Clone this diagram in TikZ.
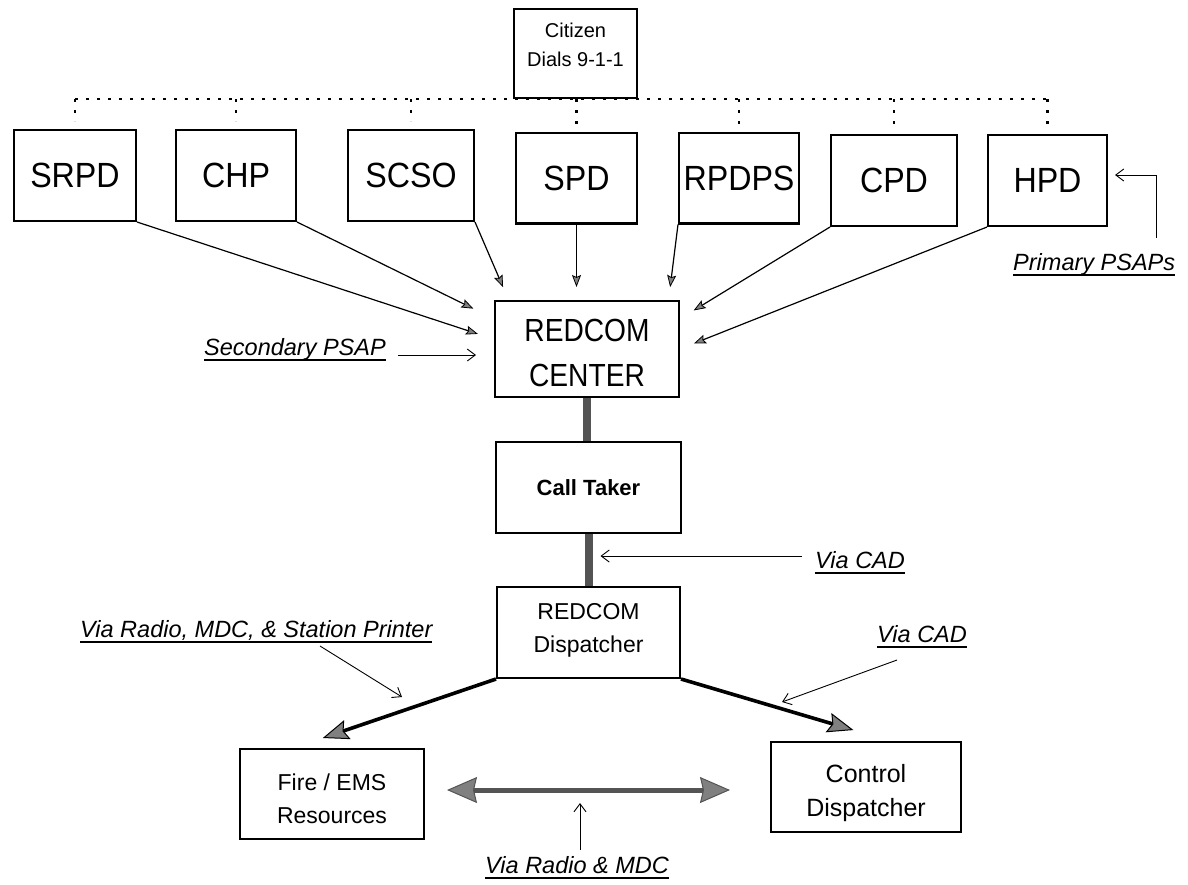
\documentclass[tikz,border=0pt]{standalone}
\usepackage{fontspec}
\setmainfont{Liberation Sans}
\newfontfamily\condsans[FakeStretch=0.92]{Liberation Sans}
\newfontfamily\condsansr[FakeStretch=0.88]{Liberation Sans}
\usetikzlibrary{arrows.meta,calc}
\definecolor{headgray}{gray}{0.5}
\definecolor{bargray}{gray}{0.33}
\newcommand\myuline[1]{\setbox0\hbox{#1}\rlap{\rule[-5.5pt]{\wd0}{1.2pt}}\box0}
\newcommand\boxlines[3]{\raisebox{#1}[\height][\depth]{\begin{tabular}{@{}c@{}}#2\\#3\end{tabular}}}
\begin{document}
\begin{tikzpicture}[x=1pt,y=-1pt,
  box/.style={draw, line width=2.4pt, inner sep=0pt},
  agency/.style={box, minimum height=90.6pt, font=\condsans\fontsize{35}{40}\selectfont},
  lbl/.style={inner sep=0pt, font=\itshape\fontsize{23.5}{28}\selectfont, anchor=base west},
  feed/.style={line width=1.2pt, -{Stealth[length=12pt,width=9pt,inset=2pt,fill=headgray,line width=0.8pt]}},
  note/.style={line width=0.9pt, -{Straight Barb[length=8pt,width=12pt,line width=0.9pt]}},
  bar/.style={line width=8pt, draw=bargray},
  dispatch/.style={line width=3.6pt, -{Stealth[length=26pt,width=20pt,inset=4pt,fill=headgray,line width=1pt]}},
  twoway/.style={line width=5pt, draw=bargray, {Stealth[length=30pt,width=26pt,inset=3pt,fill=headgray,line width=1pt]}-{Stealth[length=30pt,width=26pt,inset=3pt,fill=headgray,line width=1pt]}},
  dots/.style={line width=2.6pt, dash pattern=on 2.6pt off 8.4pt}
]
\useasboundingbox (0,0) rectangle (1188,884);

% top
\node[box, minimum width=122.6pt, minimum height=88.6pt, font=\fontsize{20}{29}\selectfont] (cit) at (575.5,53.5) {\boxlines{7pt}{Citizen}{Dials 9-1-1}};

\node[agency, minimum width=121.6pt] (srpd) at (75,175.5) {SRPD};
\node[agency, minimum width=119.6pt] (chp) at (236,175.5) {CHP};
\node[agency, minimum width=125.6pt] (scso) at (411,175.5) {SCSO};
\node[agency, minimum width=120.6pt] (spd) at (576.5,178) {SPD};
\node[agency, minimum width=119.6pt] (rpdps) at (739,178) {RPDPS};
\node[agency, minimum width=125.6pt] (cpd) at (894,180.5) {CPD};
\node[agency, minimum width=118.6pt] (hpd) at (1047.5,180.5) {HPD};

% dotted distribution
\draw[dots] (srpd.north |- cit.south) -- (hpd.north |- cit.south);
\foreach \n in {srpd,chp,scso,spd,rpdps,cpd,hpd}{
  \draw[dots, shorten >=8pt] (\n.north |- cit.south) -- (\n.north);
}

% main column
\node[box, minimum width=183.6pt, minimum height=95.6pt, font=\condsansr\fontsize{32}{45}\selectfont] (rc) at (587,349) {\boxlines{-6pt}{REDCOM}{CENTER}};
\node[box, minimum width=184.6pt, minimum height=90.6pt, font=\bfseries\fontsize{22}{26}\selectfont] (ct) at (588.5,487.5) {Call Taker};
\node[box, minimum width=182.6pt, minimum height=90.6pt, font=\fontsize{23}{33}\selectfont] (disp) at (588.5,632.5) {\boxlines{3.5pt}{REDCOM}{Dispatcher}};
\node[box, minimum width=183.6pt, minimum height=89.6pt, font=\fontsize{23}{33}\selectfont] (fire) at (332,794) {\boxlines{-6pt}{Fire / EMS}{Resources}};
\node[box, minimum width=189.6pt, minimum height=89.6pt, font=\fontsize{25}{34}\selectfont] (ctl) at (866,787) {\boxlines{-6pt}{Control}{Dispatcher}};

% agencies feeding REDCOM
\draw[feed, shorten >=17pt] (srpd.south east) -- (rc.174);
\draw[feed, shorten >=23pt] (chp.south east) -- (rc.162);
\draw[feed, shorten >=14pt] (scso.south east) -- (rc.148);
\draw[feed, shorten >=13pt] (spd.south) -- (spd.south |- rc.north);
\draw[feed, shorten >=13pt] (rpdps.south west) -- (rc.31.5);
\draw[feed, shorten >=16pt] (cpd.south west) -- (rc.18);
\draw[feed, shorten >=15pt] (hpd.south west) -- (rc.east);

% bars
\draw[bar] (rc.south) -- (rc.south |- ct.north);
\draw[bar] (ct.south) -- (ct.south |- disp.north);

% dispatch arrows
\draw[dispatch, shorten >=31pt] (disp.south west) -- (fire.130.7);
\draw[dispatch, shorten >=38.6pt] (disp.south east) -- (ctl.62.4);
\coordinate (fe) at ([yshift=4pt]fire.east);
\draw[twoway, shorten <=22pt, shorten >=40pt] (fe) -- (fe -| ctl.west);

% labels
\node[lbl] (sec) at (204,355) {\myuline{Secondary PSAP}};
\draw[note, shorten >=18pt] ([xshift=12pt]sec.base east) -- (sec.base east -| rc.west);

\node[lbl] (prim) at (1013,270) {\myuline{Primary PSAPs}};
\coordinate (prims) at ([shift={(143pt,32pt)}]prim.base west);
\draw[note] (prims) |- ([shift={(7pt,5.5pt)}]hpd.east);

\node[lbl] (cad1) at (815,568) {\myuline{Via CAD}};
\coordinate (cad1s) at ([shift={(-13pt,12pt)}]cad1.base west);
\draw[note, shorten >=12pt] (cad1s) -- (cad1s -| ct.south);

\node[lbl] (cad2) at (877,642) {\myuline{Via CAD}};
\coordinate (cad2s) at ([shift={(20pt,-18pt)}]cad2.base west);
\coordinate (cad2t) at (782,702);
\draw[note] (cad2s) -- (cad2t);

\node[lbl] (vrs) at (80,637) {\myuline{Via Radio, MDC, \& Station Printer}};
\coordinate (vrss) at ([shift={(240pt,-9pt)}]vrs.base west);
\coordinate (vrst) at (402,697);
\draw[note] (vrss) -- (vrst);

\node[lbl] (vrm) at (485,873) {\myuline{Via Radio \& MDC}};
\coordinate (vrms) at ([shift={(95pt,23pt)}]vrm.base west);
\coordinate (vrmt) at (580,803);
\draw[note] (vrms) -- (vrmt);
\end{tikzpicture}
\end{document}
